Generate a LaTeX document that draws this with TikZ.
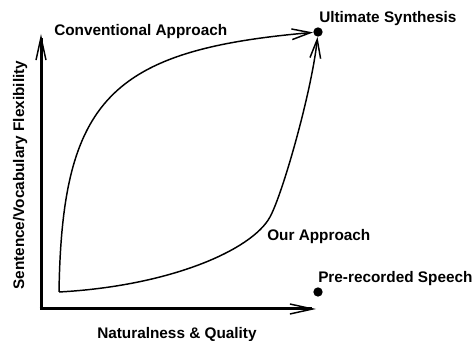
\documentclass[tikz,border=0pt]{standalone}
\usepackage{fontspec}
\setmainfont{Liberation Sans}
\newfontfamily\lblfont{Liberation Sans Bold}
\usetikzlibrary{arrows.meta}
\begin{document}
\begin{tikzpicture}[x=0.75pt,y=-0.75pt,
  lbl/.style={font=\lblfont\fontsize{11.5}{14}\selectfont, inner sep=0pt, anchor=base west},
  axis/.style={line width=2.25pt, -{Straight Barb[length=17pt,width=7.5pt,line width=1.1pt]}},
  curve/.style={line width=1.1pt, -{Straight Barb[length=14pt,width=8pt,line width=1.1pt]}},
  dot/.style={circle, fill=black, inner sep=0pt, minimum size=7pt}]
\useasboundingbox (0,0) rectangle (476,341);
\coordinate (O) at (41,309);
\coordinate (ytip) at (41,34);
\coordinate (xtip) at (316,309);
\coordinate (s) at (59,292);
\node[dot] (u) at (318,32) {};
\node[dot] (p) at (318,292) {};
\coordinate (m) at (270,217);
\draw[axis] (O) -- (ytip);
\draw[axis] (O) -- (xtip);
\draw[line width=2.25pt] ([xshift=-1.125pt]O) -- ([xshift=1pt]O);
\draw[curve] (s) .. controls (62,100) and (110,50) .. (u);
\draw[line width=1.1pt] (s) .. controls (170,286) and (252,250) .. (m);
\draw[curve] (m) .. controls (283,193) and (312,90) .. (u);
\node[lbl] (conv) at (54,36) {Conventional Approach};
\node[lbl] (ult) at (319,23) {Ultimate Synthesis};
\node[lbl] (our) at (267,241) {Our Approach};
\node[lbl] (pre) at (318,283) {Pre-recorded Speech};
\node[lbl] (xl) at (97,339) {Naturalness \& Quality};
\node[lbl, rotate=90] (yl) at (24,290) {Sentence/Vocabulary Flexibility};
\end{tikzpicture}
\end{document}
